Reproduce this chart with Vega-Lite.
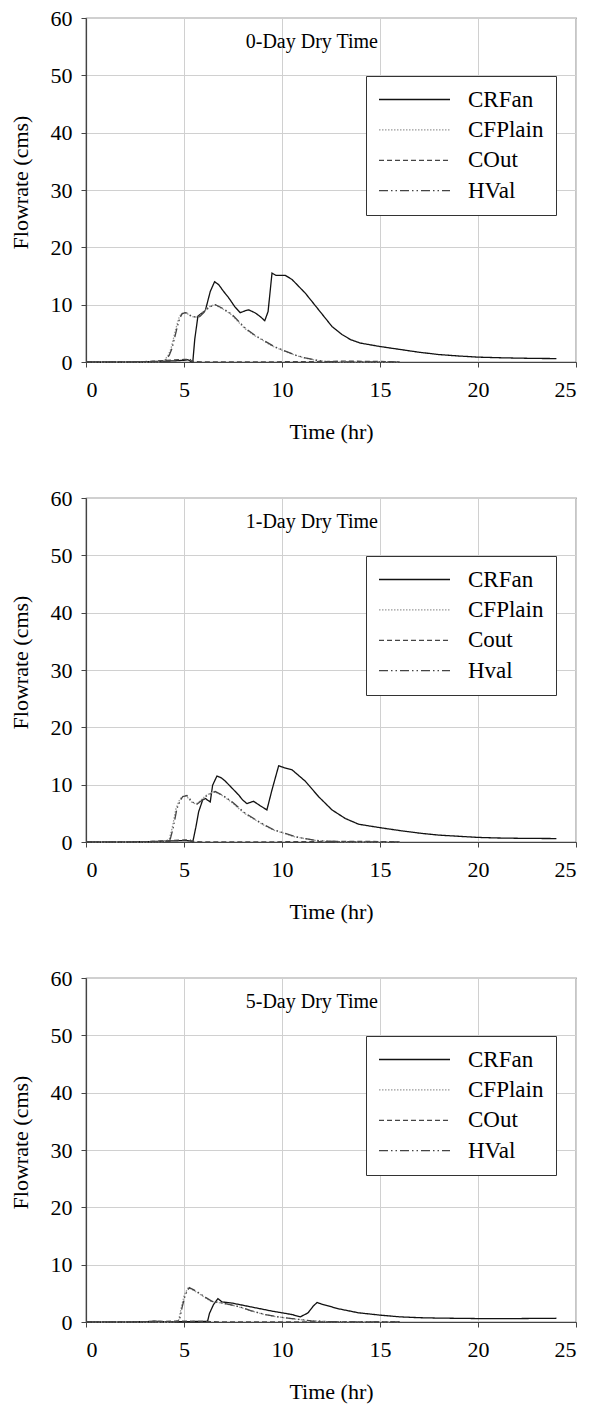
{
  "$schema": "https://vega.github.io/schema/vega-lite/v6.json",
  "background": "white",
  "padding": {"left": 8, "top": 6, "right": 5, "bottom": 5},
  "bounds": "flush",
  "spacing": 136,
  "config": {
    "font": "Liberation Serif",
    "view": {"stroke": "#444", "strokeWidth": 1.2},
    "axis": {"labelFont": "Liberation Serif", "labelFontSize": 22, "labelColor": "#000", "titleFont": "Liberation Serif", "titleFontSize": 22, "titleFontWeight": "normal", "titleColor": "#000", "domainColor": "#444", "domainWidth": 1.2, "tickColor": "#444", "tickSize": 5, "gridColor": "#d0d0d0", "gridWidth": 1},
    "axisX": {"labelPadding": 12, "titlePadding": 21},
    "axisY": {"labelPadding": 9, "titlePadding": 18, "titleY": 164},
    "legend": {"orient": "none", "legendX": 280, "legendY": 58, "strokeColor": "#333", "fillColor": "white", "padding": 12, "labelFont": "Liberation Serif", "labelFontSize": 23, "labelColor": "#000", "symbolType": "stroke", "symbolSize": 5041, "symbolStrokeWidth": 1.3, "labelOffset": 17, "clipHeight": 23, "rowPadding": 6.4}
  },
  "resolve": {"scale": {"color": "independent", "strokeDash": "independent"}, "legend": {"color": "independent", "strokeDash": "independent"}},
  "vconcat": [
    {
      "width": 490, "height": 344,
      "layer": [
        {
          "data": {"values": [
            {"hr":0,"q":0,"s":"CRFan"},{"hr":2,"q":0,"s":"CRFan"},{"hr":3,"q":0.05,"s":"CRFan"},{"hr":3.5,"q":0.1,"s":"CRFan"},{"hr":4,"q":0.15,"s":"CRFan"},{"hr":4.5,"q":0.2,"s":"CRFan"},{"hr":5,"q":0.3,"s":"CRFan"},{"hr":5.2,"q":0.4,"s":"CRFan"},{"hr":5.35,"q":0.1,"s":"CRFan"},{"hr":5.45,"q":0.05,"s":"CRFan"},{"hr":5.55,"q":4,"s":"CRFan"},{"hr":5.71,"q":8.0,"s":"CRFan"},{"hr":5.92,"q":8.55,"s":"CRFan"},{"hr":6.09,"q":9.0,"s":"CRFan"},{"hr":6.34,"q":12.3,"s":"CRFan"},{"hr":6.56,"q":14.0,"s":"CRFan"},{"hr":6.77,"q":13.5,"s":"CRFan"},{"hr":7.0,"q":12.4,"s":"CRFan"},{"hr":7.28,"q":11.2,"s":"CRFan"},{"hr":7.6,"q":9.6,"s":"CRFan"},{"hr":7.87,"q":8.6,"s":"CRFan"},{"hr":8.1,"q":8.9,"s":"CRFan"},{"hr":8.3,"q":9.1,"s":"CRFan"},{"hr":8.64,"q":8.55,"s":"CRFan"},{"hr":8.9,"q":7.9,"s":"CRFan"},{"hr":9.12,"q":7.2,"s":"CRFan"},{"hr":9.29,"q":8.8,"s":"CRFan"},{"hr":9.49,"q":15.5,"s":"CRFan"},{"hr":9.69,"q":15.1,"s":"CRFan"},{"hr":10.17,"q":15.1,"s":"CRFan"},{"hr":10.51,"q":14.4,"s":"CRFan"},{"hr":11.19,"q":12.0,"s":"CRFan"},{"hr":11.87,"q":9.1,"s":"CRFan"},{"hr":12.55,"q":6.2,"s":"CRFan"},{"hr":13.06,"q":4.8,"s":"CRFan"},{"hr":13.5,"q":3.9,"s":"CRFan"},{"hr":14,"q":3.3,"s":"CRFan"},{"hr":15,"q":2.7,"s":"CRFan"},{"hr":16,"q":2.2,"s":"CRFan"},{"hr":17,"q":1.7,"s":"CRFan"},{"hr":18,"q":1.3,"s":"CRFan"},{"hr":19,"q":1.05,"s":"CRFan"},{"hr":20,"q":0.85,"s":"CRFan"},{"hr":21,"q":0.75,"s":"CRFan"},{"hr":22,"q":0.68,"s":"CRFan"},{"hr":23,"q":0.62,"s":"CRFan"},{"hr":24,"q":0.6,"s":"CRFan"},
            {"hr":0,"q":0,"s":"CFPlain"},{"hr":3,"q":0,"s":"CFPlain"},{"hr":3.75,"q":0.05,"s":"CFPlain"},{"hr":4.0,"q":0.3,"s":"CFPlain"},{"hr":4.2,"q":1.2,"s":"CFPlain"},{"hr":4.34,"q":2.4,"s":"CFPlain"},{"hr":4.47,"q":4.2,"s":"CFPlain"},{"hr":4.59,"q":5.9,"s":"CFPlain"},{"hr":4.73,"q":7.6,"s":"CFPlain"},{"hr":4.85,"q":8.4,"s":"CFPlain"},{"hr":5.0,"q":8.6,"s":"CFPlain"},{"hr":5.15,"q":8.5,"s":"CFPlain"},{"hr":5.25,"q":8.2,"s":"CFPlain"},{"hr":5.36,"q":8.0,"s":"CFPlain"},{"hr":5.55,"q":7.8,"s":"CFPlain"},{"hr":5.75,"q":7.9,"s":"CFPlain"},{"hr":5.95,"q":8.6,"s":"CFPlain"},{"hr":6.25,"q":9.6,"s":"CFPlain"},{"hr":6.55,"q":10.0,"s":"CFPlain"},{"hr":6.95,"q":9.3,"s":"CFPlain"},{"hr":7.4,"q":8.3,"s":"CFPlain"},{"hr":8.08,"q":5.9,"s":"CFPlain"},{"hr":8.55,"q":4.7,"s":"CFPlain"},{"hr":9.1,"q":3.6,"s":"CFPlain"},{"hr":9.55,"q":2.7,"s":"CFPlain"},{"hr":10.12,"q":1.9,"s":"CFPlain"},{"hr":10.65,"q":1.2,"s":"CFPlain"},{"hr":11.14,"q":0.7,"s":"CFPlain"},{"hr":11.65,"q":0.35,"s":"CFPlain"},{"hr":12.15,"q":0.1,"s":"CFPlain"},{"hr":13,"q":0.03,"s":"CFPlain"},{"hr":16,"q":0,"s":"CFPlain"},
            {"hr":0,"q":0,"s":"COut"},{"hr":2,"q":0.02,"s":"COut"},{"hr":3,"q":0.08,"s":"COut"},{"hr":3.5,"q":0.15,"s":"COut"},{"hr":4,"q":0.25,"s":"COut"},{"hr":4.5,"q":0.35,"s":"COut"},{"hr":5,"q":0.45,"s":"COut"},{"hr":5.3,"q":0.5,"s":"COut"},{"hr":5.4,"q":0.1,"s":"COut"},{"hr":6,"q":0.02,"s":"COut"},{"hr":12,"q":0.05,"s":"COut"},{"hr":13,"q":0.15,"s":"COut"},{"hr":15,"q":0.1,"s":"COut"},{"hr":16,"q":0,"s":"COut"},
            {"hr":0,"q":0,"s":"HVal"},{"hr":3,"q":0,"s":"HVal"},{"hr":3.8,"q":0.05,"s":"HVal"},{"hr":4.05,"q":0.3,"s":"HVal"},{"hr":4.25,"q":1.2,"s":"HVal"},{"hr":4.39,"q":2.4,"s":"HVal"},{"hr":4.52,"q":4.2,"s":"HVal"},{"hr":4.64,"q":5.9,"s":"HVal"},{"hr":4.78,"q":7.6,"s":"HVal"},{"hr":4.9,"q":8.4,"s":"HVal"},{"hr":5.05,"q":8.6,"s":"HVal"},{"hr":5.2,"q":8.5,"s":"HVal"},{"hr":5.3,"q":8.2,"s":"HVal"},{"hr":5.41,"q":8.0,"s":"HVal"},{"hr":5.6,"q":7.8,"s":"HVal"},{"hr":5.8,"q":7.9,"s":"HVal"},{"hr":6.0,"q":8.6,"s":"HVal"},{"hr":6.3,"q":9.6,"s":"HVal"},{"hr":6.6,"q":10.0,"s":"HVal"},{"hr":7.0,"q":9.3,"s":"HVal"},{"hr":7.45,"q":8.3,"s":"HVal"},{"hr":8.13,"q":5.9,"s":"HVal"},{"hr":8.6,"q":4.7,"s":"HVal"},{"hr":9.15,"q":3.6,"s":"HVal"},{"hr":9.6,"q":2.7,"s":"HVal"},{"hr":10.17,"q":1.9,"s":"HVal"},{"hr":10.7,"q":1.2,"s":"HVal"},{"hr":11.19,"q":0.7,"s":"HVal"},{"hr":11.7,"q":0.35,"s":"HVal"},{"hr":12.2,"q":0.1,"s":"HVal"},{"hr":13,"q":0.03,"s":"HVal"},{"hr":16,"q":0,"s":"HVal"}
          ]},
          "mark": {"type": "line", "strokeWidth": 1.3},
          "encoding": {
            "x": {"field": "hr", "type": "quantitative", "scale": {"domain": [0, 25], "nice": false}, "axis": {"values": [0,5,10,15,20,25], "title": "Time (hr)", "grid": true}},
            "y": {"field": "q", "type": "quantitative", "scale": {"domain": [0, 60], "nice": false}, "axis": {"values": [0,10,20,30,40,50,60], "title": "Flowrate (cms)", "grid": true}},
            "detail": {"field": "s"},
            "color": {"field": "s", "type": "nominal", "title": null, "scale": {"domain": ["CRFan","CFPlain","COut","HVal"], "range": ["#111111","#9a9a9a","#444444","#444444"]}},
            "strokeDash": {"field": "s", "type": "nominal", "title": null, "scale": {"domain": ["CRFan","CFPlain","COut","HVal"], "range": [[1,0],[1.5,1.5],[5,3],[9,3,1.5,3,1.5,3]]}}
          }
        },
        {
          "data": {"values": [{"label": "0-Day Dry Time"}]},
          "mark": {"type": "text", "align": "left", "baseline": "alphabetic", "font": "Liberation Serif", "fontSize": 20, "color": "#000"},
          "encoding": {"x": {"datum": 8.15}, "y": {"datum": 54.7}, "text": {"field": "label"}}
        }
      ]
    },
    {
      "width": 490, "height": 344,
      "layer": [
        {
          "data": {"values": [
            {"hr":0,"q":0,"s":"CRFan"},{"hr":3,"q":0.05,"s":"CRFan"},{"hr":4,"q":0.15,"s":"CRFan"},{"hr":4.5,"q":0.2,"s":"CRFan"},{"hr":5,"q":0.25,"s":"CRFan"},{"hr":5.3,"q":0.2,"s":"CRFan"},{"hr":5.45,"q":0.05,"s":"CRFan"},{"hr":5.6,"q":2.5,"s":"CRFan"},{"hr":5.75,"q":5.3,"s":"CRFan"},{"hr":5.95,"q":7.3,"s":"CRFan"},{"hr":6.1,"q":7.6,"s":"CRFan"},{"hr":6.2,"q":7.3,"s":"CRFan"},{"hr":6.34,"q":7.0,"s":"CRFan"},{"hr":6.46,"q":9.9,"s":"CRFan"},{"hr":6.68,"q":11.5,"s":"CRFan"},{"hr":6.9,"q":11.2,"s":"CRFan"},{"hr":7.11,"q":10.6,"s":"CRFan"},{"hr":7.45,"q":9.4,"s":"CRFan"},{"hr":7.79,"q":8.2,"s":"CRFan"},{"hr":8.0,"q":7.3,"s":"CRFan"},{"hr":8.21,"q":6.7,"s":"CRFan"},{"hr":8.55,"q":7.1,"s":"CRFan"},{"hr":8.9,"q":6.3,"s":"CRFan"},{"hr":9.23,"q":5.6,"s":"CRFan"},{"hr":9.49,"q":9.1,"s":"CRFan"},{"hr":9.83,"q":13.3,"s":"CRFan"},{"hr":10.08,"q":13.0,"s":"CRFan"},{"hr":10.51,"q":12.6,"s":"CRFan"},{"hr":11.19,"q":10.6,"s":"CRFan"},{"hr":11.87,"q":7.9,"s":"CRFan"},{"hr":12.55,"q":5.6,"s":"CRFan"},{"hr":13.23,"q":4.1,"s":"CRFan"},{"hr":13.91,"q":3.1,"s":"CRFan"},{"hr":15,"q":2.5,"s":"CRFan"},{"hr":16,"q":2.0,"s":"CRFan"},{"hr":17,"q":1.55,"s":"CRFan"},{"hr":18,"q":1.2,"s":"CRFan"},{"hr":19,"q":1.0,"s":"CRFan"},{"hr":20,"q":0.8,"s":"CRFan"},{"hr":21,"q":0.7,"s":"CRFan"},{"hr":22,"q":0.65,"s":"CRFan"},{"hr":23,"q":0.62,"s":"CRFan"},{"hr":24,"q":0.6,"s":"CRFan"},
            {"hr":0,"q":0,"s":"CFPlain"},{"hr":3,"q":0,"s":"CFPlain"},{"hr":4.05,"q":0.1,"s":"CFPlain"},{"hr":4.25,"q":0.5,"s":"CFPlain"},{"hr":4.4,"q":2.5,"s":"CFPlain"},{"hr":4.59,"q":5.8,"s":"CFPlain"},{"hr":4.75,"q":7.2,"s":"CFPlain"},{"hr":4.88,"q":7.9,"s":"CFPlain"},{"hr":5.1,"q":8.1,"s":"CFPlain"},{"hr":5.25,"q":7.5,"s":"CFPlain"},{"hr":5.36,"q":7.0,"s":"CFPlain"},{"hr":5.61,"q":6.6,"s":"CFPlain"},{"hr":5.87,"q":7.3,"s":"CFPlain"},{"hr":6.15,"q":8.2,"s":"CFPlain"},{"hr":6.55,"q":8.8,"s":"CFPlain"},{"hr":6.95,"q":8.1,"s":"CFPlain"},{"hr":7.4,"q":7.0,"s":"CFPlain"},{"hr":8.08,"q":5.0,"s":"CFPlain"},{"hr":8.55,"q":4.0,"s":"CFPlain"},{"hr":9.1,"q":2.9,"s":"CFPlain"},{"hr":9.55,"q":2.1,"s":"CFPlain"},{"hr":10.12,"q":1.5,"s":"CFPlain"},{"hr":10.65,"q":0.9,"s":"CFPlain"},{"hr":11.14,"q":0.6,"s":"CFPlain"},{"hr":11.65,"q":0.3,"s":"CFPlain"},{"hr":12.15,"q":0.15,"s":"CFPlain"},{"hr":13,"q":0.05,"s":"CFPlain"},{"hr":16,"q":0,"s":"CFPlain"},
            {"hr":0,"q":0,"s":"Cout"},{"hr":2,"q":0.02,"s":"Cout"},{"hr":3,"q":0.06,"s":"Cout"},{"hr":3.5,"q":0.12,"s":"Cout"},{"hr":4,"q":0.2,"s":"Cout"},{"hr":4.5,"q":0.28,"s":"Cout"},{"hr":5,"q":0.35,"s":"Cout"},{"hr":5.3,"q":0.4,"s":"Cout"},{"hr":5.4,"q":0.1,"s":"Cout"},{"hr":6,"q":0.02,"s":"Cout"},{"hr":12,"q":0.05,"s":"Cout"},{"hr":13,"q":0.12,"s":"Cout"},{"hr":15,"q":0.08,"s":"Cout"},{"hr":16,"q":0,"s":"Cout"},
            {"hr":0,"q":0,"s":"Hval"},{"hr":3,"q":0,"s":"Hval"},{"hr":4.1,"q":0.1,"s":"Hval"},{"hr":4.3,"q":0.5,"s":"Hval"},{"hr":4.45,"q":2.5,"s":"Hval"},{"hr":4.64,"q":5.8,"s":"Hval"},{"hr":4.8,"q":7.2,"s":"Hval"},{"hr":4.93,"q":7.9,"s":"Hval"},{"hr":5.15,"q":8.1,"s":"Hval"},{"hr":5.3,"q":7.5,"s":"Hval"},{"hr":5.41,"q":7.0,"s":"Hval"},{"hr":5.66,"q":6.6,"s":"Hval"},{"hr":5.92,"q":7.3,"s":"Hval"},{"hr":6.2,"q":8.2,"s":"Hval"},{"hr":6.6,"q":8.8,"s":"Hval"},{"hr":7.0,"q":8.1,"s":"Hval"},{"hr":7.45,"q":7.0,"s":"Hval"},{"hr":8.13,"q":5.0,"s":"Hval"},{"hr":8.6,"q":4.0,"s":"Hval"},{"hr":9.15,"q":2.9,"s":"Hval"},{"hr":9.6,"q":2.1,"s":"Hval"},{"hr":10.17,"q":1.5,"s":"Hval"},{"hr":10.7,"q":0.9,"s":"Hval"},{"hr":11.19,"q":0.6,"s":"Hval"},{"hr":11.7,"q":0.3,"s":"Hval"},{"hr":12.2,"q":0.15,"s":"Hval"},{"hr":13,"q":0.05,"s":"Hval"},{"hr":16,"q":0,"s":"Hval"}
          ]},
          "mark": {"type": "line", "strokeWidth": 1.3},
          "encoding": {
            "x": {"field": "hr", "type": "quantitative", "scale": {"domain": [0, 25], "nice": false}, "axis": {"values": [0,5,10,15,20,25], "title": "Time (hr)", "grid": true}},
            "y": {"field": "q", "type": "quantitative", "scale": {"domain": [0, 60], "nice": false}, "axis": {"values": [0,10,20,30,40,50,60], "title": "Flowrate (cms)", "grid": true}},
            "detail": {"field": "s"},
            "color": {"field": "s", "type": "nominal", "title": null, "scale": {"domain": ["CRFan","CFPlain","Cout","Hval"], "range": ["#111111","#9a9a9a","#444444","#444444"]}},
            "strokeDash": {"field": "s", "type": "nominal", "title": null, "scale": {"domain": ["CRFan","CFPlain","Cout","Hval"], "range": [[1,0],[1.5,1.5],[5,3],[9,3,1.5,3,1.5,3]]}}
          }
        },
        {
          "data": {"values": [{"label": "1-Day Dry Time"}]},
          "mark": {"type": "text", "align": "left", "baseline": "alphabetic", "font": "Liberation Serif", "fontSize": 20, "color": "#000"},
          "encoding": {"x": {"datum": 8.15}, "y": {"datum": 54.7}, "text": {"field": "label"}}
        }
      ]
    },
    {
      "width": 490, "height": 344,
      "layer": [
        {
          "data": {"values": [
            {"hr":0,"q":0,"s":"CRFan"},{"hr":3,"q":0.05,"s":"CRFan"},{"hr":3.5,"q":0.15,"s":"CRFan"},{"hr":4,"q":0.05,"s":"CRFan"},{"hr":6.2,"q":0.1,"s":"CRFan"},{"hr":6.3,"q":1.5,"s":"CRFan"},{"hr":6.5,"q":3.0,"s":"CRFan"},{"hr":6.73,"q":4.07,"s":"CRFan"},{"hr":6.94,"q":3.5,"s":"CRFan"},{"hr":7.45,"q":3.3,"s":"CRFan"},{"hr":8.47,"q":2.6,"s":"CRFan"},{"hr":9.49,"q":1.9,"s":"CRFan"},{"hr":10.51,"q":1.3,"s":"CRFan"},{"hr":10.94,"q":0.9,"s":"CRFan"},{"hr":11.33,"q":1.6,"s":"CRFan"},{"hr":11.6,"q":2.8,"s":"CRFan"},{"hr":11.79,"q":3.4,"s":"CRFan"},{"hr":12.04,"q":3.1,"s":"CRFan"},{"hr":12.89,"q":2.3,"s":"CRFan"},{"hr":13.91,"q":1.6,"s":"CRFan"},{"hr":15,"q":1.2,"s":"CRFan"},{"hr":16,"q":0.9,"s":"CRFan"},{"hr":17,"q":0.75,"s":"CRFan"},{"hr":18,"q":0.68,"s":"CRFan"},{"hr":20,"q":0.6,"s":"CRFan"},{"hr":22,"q":0.6,"s":"CRFan"},{"hr":24,"q":0.65,"s":"CRFan"},
            {"hr":0,"q":0,"s":"CFPlain"},{"hr":4.5,"q":0,"s":"CFPlain"},{"hr":4.72,"q":0.2,"s":"CFPlain"},{"hr":4.86,"q":2.5,"s":"CFPlain"},{"hr":5.02,"q":4.8,"s":"CFPlain"},{"hr":5.22,"q":6.0,"s":"CFPlain"},{"hr":5.45,"q":5.6,"s":"CFPlain"},{"hr":5.7,"q":5.1,"s":"CFPlain"},{"hr":6.05,"q":4.3,"s":"CFPlain"},{"hr":6.38,"q":3.6,"s":"CFPlain"},{"hr":6.75,"q":3.4,"s":"CFPlain"},{"hr":7.05,"q":3.2,"s":"CFPlain"},{"hr":7.74,"q":2.7,"s":"CFPlain"},{"hr":8.35,"q":2.0,"s":"CFPlain"},{"hr":9.1,"q":1.3,"s":"CFPlain"},{"hr":9.75,"q":0.9,"s":"CFPlain"},{"hr":10.45,"q":0.6,"s":"CFPlain"},{"hr":11.45,"q":0.2,"s":"CFPlain"},{"hr":12.5,"q":0.05,"s":"CFPlain"},{"hr":16,"q":0,"s":"CFPlain"},
            {"hr":0,"q":0,"s":"COut"},{"hr":2,"q":0.02,"s":"COut"},{"hr":3,"q":0.05,"s":"COut"},{"hr":3.5,"q":0.1,"s":"COut"},{"hr":4,"q":0.12,"s":"COut"},{"hr":5,"q":0.15,"s":"COut"},{"hr":6,"q":0.1,"s":"COut"},{"hr":7,"q":0.02,"s":"COut"},{"hr":16,"q":0,"s":"COut"},
            {"hr":0,"q":0,"s":"HVal"},{"hr":4.5,"q":0,"s":"HVal"},{"hr":4.76,"q":0.2,"s":"HVal"},{"hr":4.9,"q":2.5,"s":"HVal"},{"hr":5.07,"q":4.8,"s":"HVal"},{"hr":5.27,"q":6.0,"s":"HVal"},{"hr":5.5,"q":5.6,"s":"HVal"},{"hr":5.75,"q":5.1,"s":"HVal"},{"hr":6.1,"q":4.3,"s":"HVal"},{"hr":6.43,"q":3.6,"s":"HVal"},{"hr":6.8,"q":3.4,"s":"HVal"},{"hr":7.1,"q":3.2,"s":"HVal"},{"hr":7.79,"q":2.7,"s":"HVal"},{"hr":8.4,"q":2.0,"s":"HVal"},{"hr":9.15,"q":1.3,"s":"HVal"},{"hr":9.8,"q":0.9,"s":"HVal"},{"hr":10.5,"q":0.6,"s":"HVal"},{"hr":11.5,"q":0.2,"s":"HVal"},{"hr":12.5,"q":0.05,"s":"HVal"},{"hr":16,"q":0,"s":"HVal"}
          ]},
          "mark": {"type": "line", "strokeWidth": 1.3},
          "encoding": {
            "x": {"field": "hr", "type": "quantitative", "scale": {"domain": [0, 25], "nice": false}, "axis": {"values": [0,5,10,15,20,25], "title": "Time (hr)", "grid": true}},
            "y": {"field": "q", "type": "quantitative", "scale": {"domain": [0, 60], "nice": false}, "axis": {"values": [0,10,20,30,40,50,60], "title": "Flowrate (cms)", "grid": true}},
            "detail": {"field": "s"},
            "color": {"field": "s", "type": "nominal", "title": null, "scale": {"domain": ["CRFan","CFPlain","COut","HVal"], "range": ["#111111","#9a9a9a","#444444","#444444"]}},
            "strokeDash": {"field": "s", "type": "nominal", "title": null, "scale": {"domain": ["CRFan","CFPlain","COut","HVal"], "range": [[1,0],[1.5,1.5],[5,3],[9,3,1.5,3,1.5,3]]}}
          }
        },
        {
          "data": {"values": [{"label": "5-Day Dry Time"}]},
          "mark": {"type": "text", "align": "left", "baseline": "alphabetic", "font": "Liberation Serif", "fontSize": 20, "color": "#000"},
          "encoding": {"x": {"datum": 8.15}, "y": {"datum": 54.7}, "text": {"field": "label"}}
        }
      ]
    }
  ]
}
